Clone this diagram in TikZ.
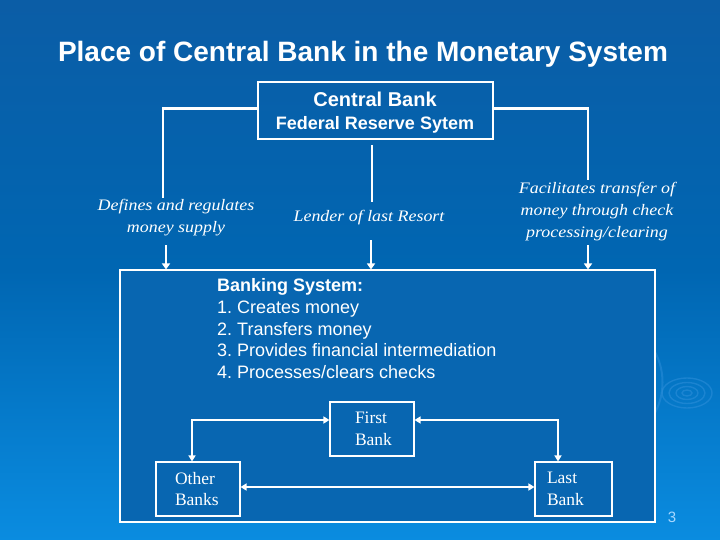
\documentclass[tikz,border=0pt]{standalone}
\usepackage{fontspec}
\setmainfont{Liberation Serif}
\setsansfont{Liberation Sans}
\newfontfamily\itfont[FakeStretch=1.12]{Liberation Serif Italic}
\usetikzlibrary{arrows.meta}
\definecolor{bgtop}{HTML}{0B5DA6}
\definecolor{bgmid}{HTML}{0066B2}
\definecolor{bgbot}{HTML}{0A8CE0}
\definecolor{boxfill}{HTML}{0866B1}
\definecolor{ripple}{HTML}{2E8FDA}
\definecolor{pagenum}{HTML}{A8D8FF}
\tikzset{
  frame/.style={draw=white, line width=1.1pt},
  conn/.style={draw=white, line width=2.6pt},
  downarrow/.style={draw=white, line width=2.6pt, -{Triangle[width=8pt,length=6pt]}},
  biarrow/.style={draw=white, line width=2.6pt, {Triangle[width=7pt,length=6pt]}-{Triangle[width=7pt,length=6pt]}},
  itlabel/.style={text=white, font=\itfont\fontsize{16}{22}\selectfont, align=center, inner sep=0pt},
  bankbox/.style={frame, text=white, font=\rmfamily\fontsize{17.5}{21.5}\selectfont, align=left, minimum height=54pt, inner ysep=0pt},
}
\begin{document}
\frenchspacing
\begin{tikzpicture}[x=1pt,y=-1pt]
\useasboundingbox (0,0) rectangle (720,540);
\shade[top color=bgtop, bottom color=bgbot, middle color=bgmid] (0,0) rectangle (720,540);
% ripples
\foreach \rx/\ry in {25/15,18/10.5,11/6.5,5/3}{
  \draw[ripple, line width=1.4pt, opacity=0.55] (687,393) ellipse[x radius=\rx, y radius=\ry];
}
\draw[ripple, line width=2pt, opacity=0.5] (640,430) arc[start angle=60, end angle=-50, x radius=45, y radius=55];
\draw[ripple, line width=2pt, opacity=0.5] (638,448) arc[start angle=50, end angle=-40, x radius=30, y radius=38];

% title
\node[text=white, font=\sffamily\bfseries\fontsize{28}{32}\selectfont] (title) at (363,54) {Place of Central Bank in the Monetary System};

% central bank
\node[frame, minimum width=235pt, minimum height=57pt, inner sep=0pt] (cb) at (375.5,110.5) {};
\node[text=white, font=\sffamily\bfseries\fontsize{20}{22}\selectfont] (cbt1) at (375,99) {Central Bank};
\node[text=white, font=\sffamily\bfseries\fontsize{18}{20}\selectfont] (cbt2) at (375,125) {Federal Reserve Sytem};

% banking system
\node[frame, fill=boxfill, minimum width=535pt, minimum height=252pt, inner sep=0pt] (bs) at (387.5,396) {};
\node[anchor=north west, text=white, font=\sffamily\fontsize{18}{21.7}\selectfont, align=left, inner sep=0pt] (bst) at (217,278.5)
 {\bfseries Banking System:\\1. Creates money\\2. Transfers money\\3. Provides financial intermediation\\4. Processes/clears checks};

% labels
\node[itlabel] (ldef) at (176,218) {Defines and regulates\\money supply};
\node[itlabel] (llr) at (369,218) {Lender of last Resort};
\node[itlabel] (lfac) at (597,212) {Facilitates transfer of\\money through check\\processing/clearing};

% top connectors
\coordinate (l1) at (163,198);
\coordinate (m0) at (372,145);
\coordinate (m1) at (372,202);
\coordinate (r1) at (588,180);
\coordinate (la) at (166,245);
\coordinate (ma) at (371,240);
\coordinate (ra) at (588,245);
\draw[conn] ([yshift=2pt]cb.west) -| (l1);
\draw[conn] ([yshift=2pt]cb.east) -| (r1);
\draw[conn] (m0) -- (m1);
\draw[downarrow] (la) -- (la |- bs.north);
\draw[downarrow] (ma) -- (ma |- bs.north);
\draw[downarrow] (ra) -- (ra |- bs.north);

% banks
\node[bankbox, text width=34pt, inner xsep=25pt] (fb) at (372,429) {First\\Bank};
\node[bankbox, text width=46pt, inner xsep=19pt] (ob) at (198,489) {Other\\Banks};
\node[bankbox, text width=53pt, inner xsep=12pt] (lb) at (573.5,489) {Last\\Bank};

\draw[biarrow] ([yshift=9pt]fb.west) -| ([xshift=-6pt]ob.north);
\draw[biarrow] ([yshift=9pt]fb.east) -| ([xshift=-15.5pt]lb.north);
\draw[biarrow] ([yshift=2pt]ob.east) -- ([yshift=2pt]ob.east -| lb.west);

\node[text=pagenum, font=\sffamily\fontsize{15}{16}\selectfont] (pg) at (672,517) {3};
\end{tikzpicture}
\end{document}
